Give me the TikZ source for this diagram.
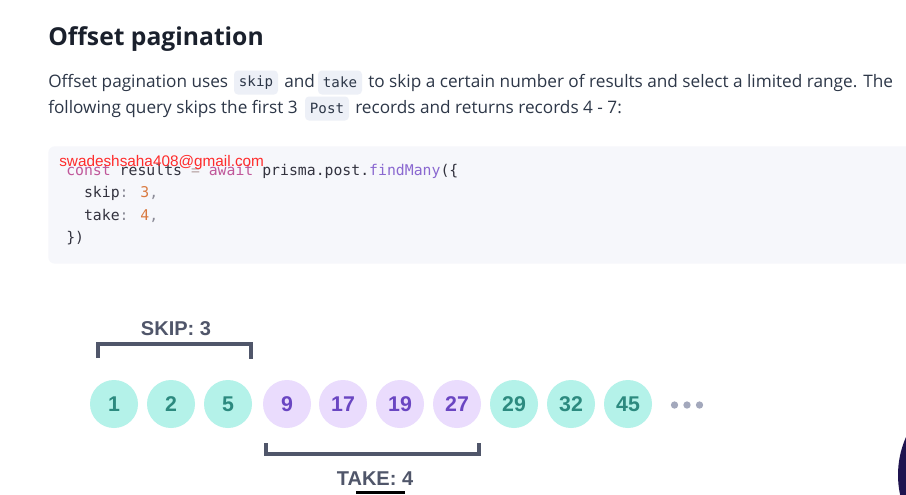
\documentclass[tikz,border=0pt]{standalone}
\usepackage{fontspec}
\setmainfont{Open Sans}
\newfontfamily\codefont{DejaVu Sans Mono}
\newfontfamily\wmfont{Liberation Sans}
\newfontfamily\dfont{Liberation Sans}
\definecolor{titlec}{HTML}{1A202C}
\definecolor{bodyc}{HTML}{2D3748}
\definecolor{inlinebg}{HTML}{EDF0F7}
\definecolor{codebg}{HTML}{F6F7FB}
\definecolor{kw}{HTML}{C0579A}
\definecolor{op}{HTML}{B9A6A6}
\definecolor{fn}{HTML}{8A68D0}
\definecolor{num}{HTML}{D9793F}
\definecolor{plain}{HTML}{33333F}
\definecolor{punct}{HTML}{8A8A96}
\definecolor{wm}{HTML}{FF2B2B}
\definecolor{tealfill}{HTML}{B4F2E9}
\definecolor{tealtext}{HTML}{2C8A7F}
\definecolor{purpfill}{HTML}{EADCFD}
\definecolor{purptext}{HTML}{6A46C2}
\definecolor{bracketc}{HTML}{50566A}
\definecolor{dotc}{HTML}{A3A8BC}
\definecolor{widget}{HTML}{1F1450}
\tikzset{
  txt/.style={anchor=base west, inner sep=0pt, text=bodyc, font=\fontsize{12.9}{15}\selectfont},
  inl/.style={fill=inlinebg, rounded corners=3pt, minimum width=33pt, minimum height=18pt, inner sep=0pt, text=bodyc, font=\codefont\fontsize{10.6}{12}\selectfont},
  codeline/.style={anchor=base west, inner sep=0pt, text=plain, font=\codefont\fontsize{11.1}{13}\selectfont},
  rec/.style={circle, minimum size=36pt, inner sep=0pt, font=\dfont\bfseries\fontsize{16}{18}\selectfont},
  skiprec/.style={rec, fill=tealfill, text=tealtext},
  takerec/.style={rec, fill=purpfill, text=purptext},
  brk/.style={draw=bracketc, line width=2.4pt},
  lbl/.style={inner sep=0pt, anchor=base, text=bracketc, font=\dfont\bfseries\fontsize{15}{17}\selectfont},
  dot/.style={circle, fill=dotc, minimum size=5.5pt, inner sep=0pt}
}
\begin{document}
\begin{tikzpicture}[x=0.75pt,y=-0.75pt]
\useasboundingbox (0,0) rectangle (906,494);
\clip (0,0) rectangle (906,494);
\fill[white] (0,0) rectangle (906,494);

% title
\node[anchor=base west, inner sep=0pt, text=titlec, font=\fontsize{18.5}{22}\selectfont\bfseries] (title) at (48,45) {Offset pagination};

% paragraph line 1
\node[txt] (p1a) at (48,87) {Offset pagination uses};
\node[inl] (skipc) at (256,82.5) {skip};
\node[txt] (p1b) at (284,87) {and};
\node[inl] (takec) at (340,82.5) {take};
\node[txt] (p1c) at (368,87) {to skip a certain number of results and select a limited range. The};
% paragraph line 2
\node[txt] (p2a) at (48,113) {following query skips the first 3};
\node[inl] (postc) at (327,108.5) {Post};
\node[txt] (p2b) at (355,113) {records and returns records 4 - 7:};

% code block
\node[fill=codebg, rounded corners=5pt, minimum width=700pt, minimum height=88pt, inner sep=0pt, anchor=north west] (codebox) at (48,146) {};
\node[codeline] (l1) at (66,175) {\textcolor{kw}{const} results \textcolor{op}{=} \textcolor{kw}{await} prisma.post.\textcolor{fn}{findMany}(\{};
\node[codeline] (l2) at (83.8,197.5) {skip\textcolor{punct}{:} \textcolor{num}{3}\textcolor{punct}{,}};
\node[codeline] (l3) at (83.8,220) {take\textcolor{punct}{:} \textcolor{num}{4}\textcolor{punct}{,}};
\node[codeline] (l4) at (66,242.5) {\})};
\node[anchor=base west, inner sep=0pt, text=wm, font=\wmfont\fontsize{11.5}{13}\selectfont] (wmark) at (59,166) {swadeshsaha408@gmail.com};

% records
\node[skiprec] (c1) at (114,404) {1};
\node[skiprec] (c2) at (171,404) {2};
\node[skiprec] (c3) at (228,404) {5};
\node[takerec] (c4) at (287,404) {9};
\node[takerec] (c5) at (343,404) {17};
\node[takerec] (c6) at (400,404) {19};
\node[takerec] (c7) at (457,404) {27};
\node[skiprec] (c8) at (514,404) {29};
\node[skiprec] (c9) at (571,404) {32};
\node[skiprec] (c10) at (628,404) {45};
\node[dot] (d1) at (674.5,405) {};
\node[dot] (d2) at (687,405) {};
\node[dot] (d3) at (699.5,405) {};

% skip bracket
\coordinate (sa) at (98,358);
\coordinate (sb) at (98,344);
\coordinate (sc) at (251,344);
\coordinate (sd) at (251,359);
\draw[brk] (sa) -- (sb) -- (sc) -- (sd);
\node[lbl] (skiplbl) at (176,335) {SKIP: 3};

% take bracket
\coordinate (ta) at (266,443);
\coordinate (tb) at (266,454);
\coordinate (tc) at (479,454);
\coordinate (td) at (479,443);
\draw[brk] (ta) -- (tb) -- (tc) -- (td);
\node[lbl] (takelbl) at (375,485) {TAKE: 4};

% screen artefacts
\fill[black] (356,491) rectangle (405,494);
\fill[widget] (992,475) circle (94);
\end{tikzpicture}
\end{document}
